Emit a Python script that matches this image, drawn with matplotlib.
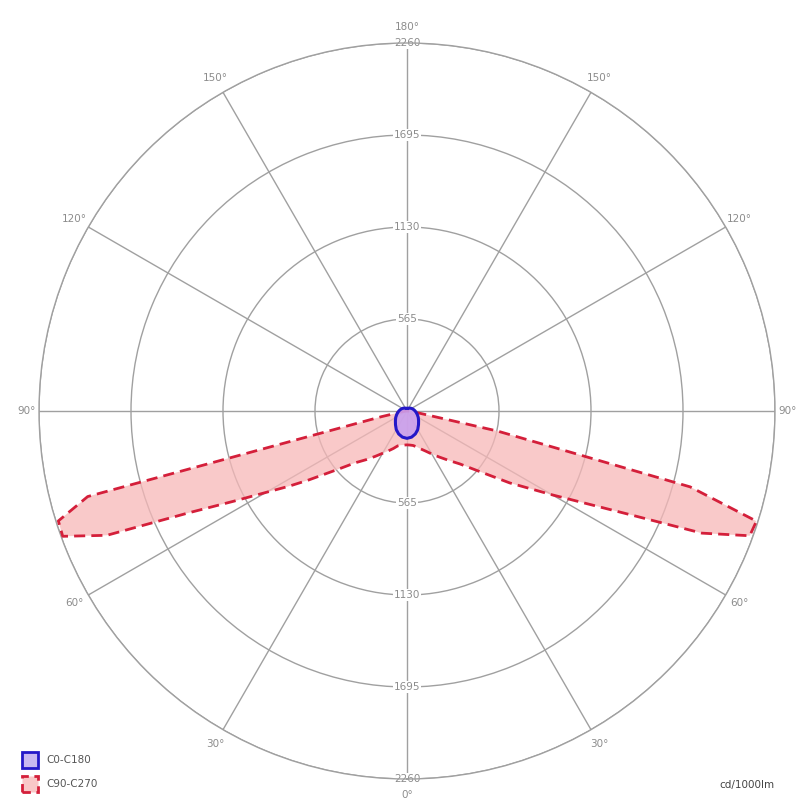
import numpy as np
import matplotlib
matplotlib.use("Agg")
import matplotlib.pyplot as plt
from matplotlib.patches import Rectangle

# ---- data (cd/1000lm) ----
# C0-C180 plane (symmetric), gamma in degrees from nadir
c0_gamma = [0, 10, 20, 30, 40, 50, 60, 70, 80, 90, 100, 110, 120, 135, 150, 165, 180]
c0_vals = [168, 163, 150, 132, 110, 93, 80, 68, 58, 50, 43, 37, 32, 25, 20, 17, 16]

# C90 (right side) and C270 (left side)
c90_gamma = [0, 5, 10, 15, 20, 25, 30, 35, 40, 45, 50, 55, 57.5, 60, 62.5, 65, 67.5, 70, 72.5, 75, 77.5, 80, 85, 90]
c90_vals = [208, 210, 215, 228, 248, 272, 305, 345, 395, 460, 575, 770, 880, 1030, 1220, 1500, 1960, 2240, 2250, 1800, 570, 80, 12, 0]

c270_gamma = [0, 5, 10, 15, 20, 25, 30, 35, 40, 45, 50, 55, 57.5, 60, 62.5, 65, 67.5, 70, 72.5, 75, 77.5, 80, 85, 90]
c270_vals = [208, 210, 213, 222, 245, 270, 300, 340, 390, 450, 560, 740, 860, 1000, 1200, 1480, 1995, 2250, 2245, 2030, 160, 40, 8, 0]

rings = [565, 1130, 1695, 2260]
angle_ticks = [0, 30, 60, 90, 120, 150, 180]
unit_label = "cd/1000lm"
legend_labels = ["C0-C180", "C90-C270"]

# ---- figure ----
W, H = 797, 799
fig = plt.figure(figsize=(W / 100, H / 100), dpi=100)
cx, cy, R = 407, 411, 368
ax = fig.add_axes([(cx - R) / W, (H - cy - R) / H, 2 * R / W, 2 * R / H], projection="polar")
ax.set_theta_zero_location("S")
ax.set_theta_direction(1)
ax.set_ylim(0, rings[-1])

grid_col = "#a0a0a0"
text_col = "#8c8c8c"

ax.set_yticks(rings)
ax.set_yticklabels([])
ax.set_xticks(np.deg2rad(np.arange(0, 360, 30)))
ax.set_xticklabels([])
ax.grid(True, color=grid_col, linewidth=1.0)
ax.spines["polar"].set_color(grid_col)
ax.spines["polar"].set_linewidth(1.0)
ax.set_facecolor("white")

# C90-C270 curve (closed through both sides)
th_left = -np.deg2rad(c270_gamma[::-1])
r_left = np.array(c270_vals[::-1], dtype=float)
th_right = np.deg2rad(c90_gamma)
r_right = np.array(c90_vals, dtype=float)
th_red = np.concatenate([th_left, th_right[1:]])
r_red = np.concatenate([r_left, r_right[1:]])
ax.fill(th_red, r_red, color="#f7b8b8", alpha=0.75, zorder=3, linewidth=0)
ax.plot(th_red, r_red, color="#d41f3a", linestyle=(0, (4, 2.2)), linewidth=2.0, zorder=4)

# C0-C180 curve (symmetric)
g = np.array(c0_gamma, dtype=float)
v = np.array(c0_vals, dtype=float)
th_blue = np.concatenate([-np.deg2rad(g[::-1]), np.deg2rad(g[1:])])
r_blue = np.concatenate([v[::-1], v[1:]])
ax.fill(th_blue, r_blue, color="#c9a0ee", alpha=0.9, zorder=5, linewidth=0)
ax.plot(th_blue, r_blue, color="#2418c8", linewidth=2.2, zorder=6)

# angle labels
for a in angle_ticks:
    for s in ([1] if a in (0, 180) else [1, -1]):
        rr = 2335 if a == 90 else 2360
        ax.text(np.deg2rad(s * a), rr, f"{a}°", ha="center", va="center",
                fontsize=7.5, color=text_col, clip_on=False, zorder=7)

# radial labels at top and bottom
for r in rings:
    for t in (0, np.pi):
        ax.text(t, r, f"{r}", ha="center", va="center", fontsize=7.5, color=text_col,
                bbox=dict(facecolor="white", edgecolor="none", pad=0.6), zorder=2.5)

# legend (manual)
def fx(x):
    return x / W

def fy(y):
    return 1 - y / H

fig.patches.append(Rectangle((fx(22), fy(768)), 16 / W, 16 / H, transform=fig.transFigure,
                             facecolor="#c9b8f0", edgecolor="#2418c8", linewidth=2.0))
fig.patches.append(Rectangle((fx(22), fy(792)), 16 / W, 16 / H, transform=fig.transFigure,
                             facecolor="#f9c8c8", edgecolor="#d41f3a", linewidth=2.0,
                             linestyle=(0, (3, 2))))
fig.text(fx(46), fy(760), legend_labels[0], fontsize=7.5, color="#555555", va="center", ha="left")
fig.text(fx(46), fy(784), legend_labels[1], fontsize=7.5, color="#555555", va="center", ha="left")
fig.text(fx(775), fy(785), unit_label, fontsize=7.5, color="#444444", va="center", ha="right")

fig.savefig("out.png", dpi=100, facecolor="white")
